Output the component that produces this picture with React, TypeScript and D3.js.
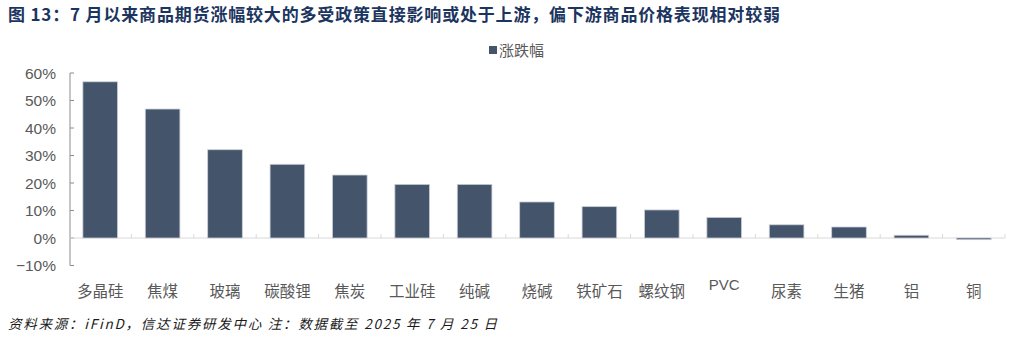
import React from "react";
import * as d3 from "d3";

const categories = ["多晶硅", "焦煤", "玻璃", "碳酸锂", "焦炭", "工业硅", "纯碱", "烧碱", "铁矿石", "螺纹钢", "PVC", "尿素", "生猪", "铝", "铜"];
const changes = [0.568, 0.469, 0.321, 0.268, 0.229, 0.195, 0.195, 0.131, 0.114, 0.102, 0.075, 0.048, 0.040, 0.010, -0.006];
const yTicks = [-0.1, 0, 0.1, 0.2, 0.3, 0.4, 0.5, 0.6];
const seriesName = "涨跌幅";
const titleText = "图 13：7 月以来商品期货涨幅较大的多受政策直接影响或处于上游，偏下游商品价格表现相对较弱";
const sourceText = "资料来源：iFinD，信达证券研发中心  注：数据截至 2025 年 7 月 25 日";

const W = 1031, H = 339;
const plotLeft = 70, plotRight = 1005, plotTop = 73, plotBottom = 265.5;
const barColor = "#44546a";
const textGray = "#595959";
const cjk = "'Noto Sans CJK SC', 'Liberation Sans', sans-serif";
const latin = "'Liberation Sans', Arial, sans-serif";

export default function App() {
  const x = d3.scaleBand<string>().domain(categories).range([69, plotRight]).paddingInner(0.445).paddingOuter(0.2225);
  const xb = d3.scaleBand<string>().domain(categories).range([69, plotRight]);
  const y = d3.scaleLinear().domain([-0.1, 0.6]).range([plotBottom, plotTop]);
  const fmt = d3.format(".0%");
  const y0 = y(0);

  return (
    <svg width={W} height={H} style={{ position: "absolute", left: 0, top: 0, background: "#fff" }}>
      <rect x={0} y={0} width={W} height={H} fill="#fff" />
      <text x={8} y={21} fontSize={17} fontWeight="bold" fill="#1c3560" fontFamily={cjk} textLength={772} lengthAdjust="spacing">{titleText}</text>

      {/* legend */}
      <rect x={489} y={46} width={8} height={8} fill={barColor} />
      <text x={499} y={56} fontSize={15} fill={textGray} fontFamily={cjk}>{seriesName}</text>

      {/* y axis */}
      <line x1={plotLeft} x2={plotLeft} y1={plotTop} y2={plotBottom} stroke="#8c8c8c" strokeWidth={1} />
      {yTicks.map((t) => (
        <g key={t}>
          <line x1={plotLeft} x2={plotLeft + 4} y1={y(t)} y2={y(t)} stroke="#8c8c8c" strokeWidth={1} />
          <text x={56} y={y(t) + 5.5} fontSize={15.5} textAnchor="end" fill={textGray} fontFamily={latin}>{fmt(t)}</text>
        </g>
      ))}

      {/* zero line */}
      <line x1={plotLeft} x2={plotRight} y1={y0} y2={y0} stroke="#d9d9d9" strokeWidth={1} />
      {categories.map((c) => (
        <line key={"t" + c} x1={(xb(c) as number) + xb.bandwidth()} x2={(xb(c) as number) + xb.bandwidth()} y1={y0} y2={y0 - 4} stroke="#d9d9d9" strokeWidth={1} />
      ))}

      {/* bars */}
      {categories.map((c, i) => {
        const v = changes[i];
        const top = y(Math.max(0, v));
        const bot = y(Math.min(0, v));
        return (
          <rect key={c} x={x(c)} y={top} width={x.bandwidth()} height={Math.max(1, bot - top)} fill={barColor} stroke="#c9ced8" strokeWidth={0.8} />
        );
      })}

      {/* category labels */}
      {categories.map((c) => (
        <text key={"l" + c} x={(xb(c) as number) + xb.bandwidth() / 2} y={c === "PVC" ? 290 : 297} fontSize={c === "PVC" ? 15 : 15.5} textAnchor="middle" fill={textGray} fontFamily={c === "PVC" ? latin : cjk}>{c}</text>
      ))}

      <text x={8} y={329} fontSize={13.5} fontStyle="italic" fill="#1a1a1a" fontFamily={cjk} textLength={489} lengthAdjust="spacing">{sourceText}</text>
    </svg>
  );
}
